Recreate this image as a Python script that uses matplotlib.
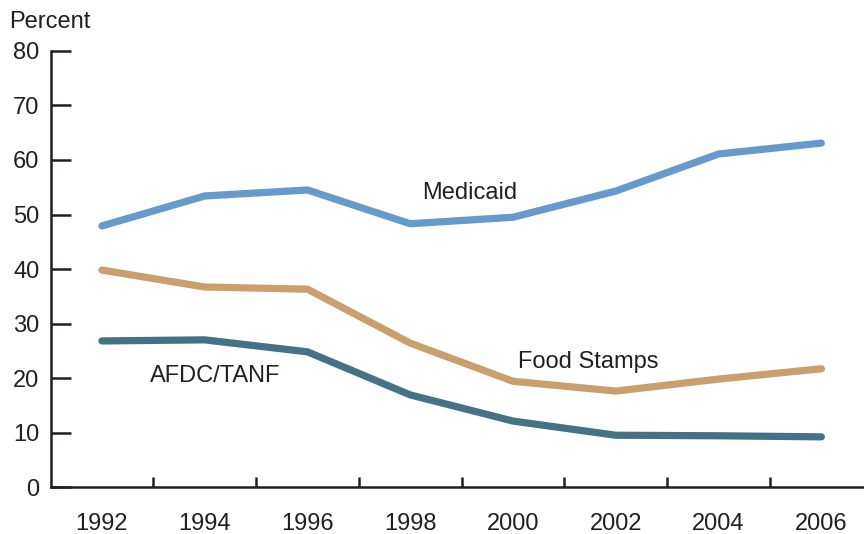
import matplotlib.pyplot as plt

plt.rcParams['font.family'] = ['Liberation Sans', 'DejaVu Sans']

years = [1992, 1994, 1996, 1998, 2000, 2002, 2004, 2006]
medicaid = [47.9, 53.4, 54.5, 48.3, 49.5, 54.3, 61.1, 63.1]
food_stamps = [39.8, 36.7, 36.3, 26.4, 19.4, 17.6, 19.8, 21.7]
afdc_tanf = [26.8, 27.0, 24.8, 16.9, 12.1, 9.5, 9.4, 9.2]

fig = plt.figure(figsize=(8.64, 5.34), dpi=100)
ax = fig.add_axes([0.0585, 0.088, 0.9415, 0.8165])

ax.plot(years, medicaid, color='#6699cc', lw=5.2, solid_capstyle='round', solid_joinstyle='round')
ax.plot(years, food_stamps, color='#c9a06c', lw=5.2, solid_capstyle='round', solid_joinstyle='round')
ax.plot(years, afdc_tanf, color='#467384', lw=5.2, solid_capstyle='round', solid_joinstyle='round')

ax.text(1999.16, 54.0, 'Medicaid', fontsize=17, ha='center', va='center', color='#231f20')
ax.text(2001.46, 23.0, 'Food Stamps', fontsize=17, ha='center', va='center', color='#231f20')
ax.text(1994.2, 20.4, 'AFDC/TANF', fontsize=17, ha='center', va='center', color='#231f20')

ax.set_xlim(1991, 2006.83)
ax.set_ylim(0, 80)
ax.set_yticks(range(0, 81, 10))
ax.set_xticks(years)
ax.set_xticks(range(1993, 2006, 2), minor=True)

for s in ['top', 'right']:
    ax.spines[s].set_visible(False)
for s in ['left', 'bottom']:
    ax.spines[s].set_linewidth(1.8)
    ax.spines[s].set_color('#231f20')

ax.tick_params(axis='y', direction='in', length=14.4, width=1.8, labelsize=17, pad=8, colors='#231f20')
ax.tick_params(axis='x', which='major', length=0, labelsize=17, pad=19, colors='#231f20')
ax.tick_params(axis='x', which='minor', direction='in', length=7.2, width=1.8, color='#231f20')

fig.text(0.011, 0.958, 'Percent', fontsize=17, ha='left', va='center', color='#231f20')

plt.savefig('out.png', dpi=100)
